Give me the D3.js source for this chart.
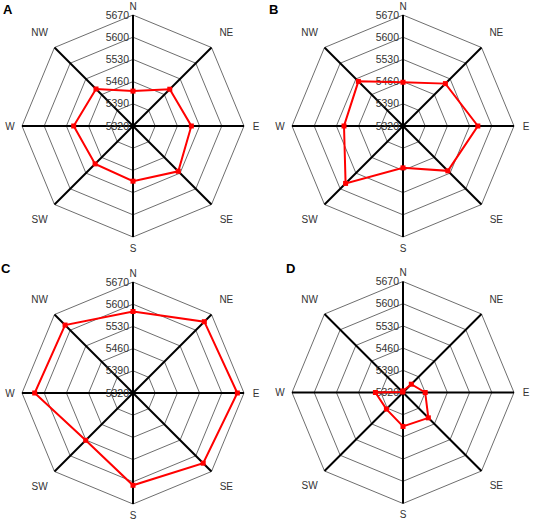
<!DOCTYPE html>
<html>
<head>
<meta charset="utf-8">
<script src="https://cdn.jsdelivr.net/npm/d3@7"></script>
<style>
  body { margin: 0; background: #fff; }
  text { font-family: "Liberation Sans", Arial, sans-serif; }
</style>
</head>
<body>
<svg id="chart"></svg>
<script>
// 方向和刻度
const directions = ["N", "NE", "E", "SE", "S", "SW", "W", "NW"];
const tickValues = [5320, 5390, 5460, 5530, 5600, 5670];
const panelNames = ["A", "B", "C", "D"];

// 各面板数值 (N, NE, E, SE, S, SW, W, NW)
const valuesA = [5430, 5484, 5504, 5522, 5494, 5489, 5507, 5485];
const valuesB = [5458, 5509, 5556, 5520, 5452, 5576, 5506, 5519];
const valuesC = [5577, 5638, 5649, 5633, 5611, 5531, 5630, 5623];
const valuesD = [5325, 5357, 5390, 5433, 5427, 5394, 5407, 5322];
const allValues = [valuesA, valuesB, valuesC, valuesD];

const width = 533;
const height = 523;
const radius = 111;
const centers = [[133, 126], [403, 126], [133, 393], [403, 392.5]];
const letterPos = [[3, 14], [269, 14], [1, 273], [286, 273]];

const svg = d3.select("#chart")
    .attr("width", width)
    .attr("height", height);

svg.append("rect").attr("width", width).attr("height", height).attr("fill", "#fff");

const rScale = d3.scaleLinear()
    .domain([tickValues[0], tickValues[tickValues.length - 1]])
    .range([0, radius]);

const angleScale = d3.scaleLinear()
    .domain([0, directions.length])
    .range([0, 2 * Math.PI]);

function px(i, r) { return r * Math.sin(angleScale(i)); }
function py(i, r) { return -r * Math.cos(angleScale(i)); }

panelNames.forEach((name, p) => {
    const [cx, cy] = centers[p];
    const g = svg.append("g").attr("transform", `translate(${cx},${cy})`);

    // 网格八边形
    const ringLine = d3.lineRadial()
        .angle((d, i) => angleScale(i))
        .radius(d => d)
        .curve(d3.curveLinearClosed);

    g.selectAll(".ring")
        .data(tickValues.slice(1))
        .enter()
        .append("path")
        .attr("class", "ring")
        .attr("d", v => ringLine(directions.map(() => rScale(v))))
        .attr("fill", "none")
        .attr("stroke", "#6e6e6e")
        .attr("stroke-width", 1);

    // 轴线
    g.selectAll(".axis")
        .data(directions)
        .enter()
        .append("line")
        .attr("class", "axis")
        .attr("x1", 0).attr("y1", 0)
        .attr("x2", (d, i) => px(i, radius))
        .attr("y2", (d, i) => py(i, radius))
        .attr("stroke", "#000")
        .attr("stroke-width", 2);

    // 刻度标签
    g.selectAll(".tick-label")
        .data(tickValues)
        .enter()
        .append("text")
        .attr("class", "tick-label")
        .attr("x", -4)
        .attr("y", v => -rScale(v))
        .attr("dy", "0.35em")
        .attr("text-anchor", "end")
        .style("font-size", "10.5px")
        .style("fill", "#333")
        .text(d => d);

    // 方向标签
    g.selectAll(".dir-label")
        .data(directions)
        .enter()
        .append("text")
        .attr("class", "dir-label")
        .attr("x", (d, i) => px(i, i % 2 ? radius + 21 : radius + 12))
        .attr("y", (d, i) => py(i, i % 2 ? radius + 21 : (i === 0 ? radius + 9 : radius + 11)))
        .attr("dy", "0.35em")
        .attr("text-anchor", "middle")
        .style("font-size", "10px")
        .style("fill", "#333")
        .text(d => d);

    // 数据折线
    const vals = allValues[p];
    const dataLine = d3.lineRadial()
        .angle((d, i) => angleScale(i))
        .radius(d => rScale(d))
        .curve(d3.curveLinearClosed);

    g.append("path")
        .datum(vals)
        .attr("d", dataLine)
        .attr("fill", "none")
        .attr("stroke", "#f00")
        .attr("stroke-width", 2);

    g.selectAll(".pt")
        .data(vals)
        .enter()
        .append("rect")
        .attr("class", "pt")
        .attr("x", (d, i) => px(i, rScale(d)) - 2.5)
        .attr("y", (d, i) => py(i, rScale(d)) - 2.5)
        .attr("width", 5)
        .attr("height", 5)
        .attr("fill", "#f00");

    // 面板字母
    svg.append("text")
        .attr("x", letterPos[p][0])
        .attr("y", letterPos[p][1])
        .style("font-size", "13px")
        .style("font-weight", "bold")
        .style("fill", "#000")
        .text(name);
});
</script>
</body>
</html>
